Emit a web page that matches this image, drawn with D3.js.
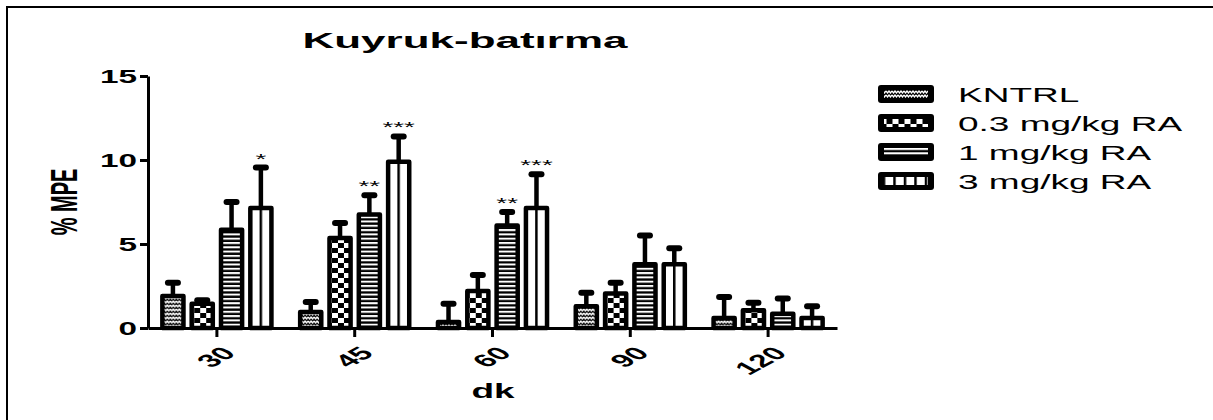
<!DOCTYPE html>
<html><head><meta charset="utf-8">
<script src="https://cdn.jsdelivr.net/npm/d3@7"></script>
<style>
body{margin:0;background:#fff}
svg{display:block}
text{font-family:Arial,"Liberation Sans",sans-serif;fill:#000}
</style>
</head><body>
<svg id="chart" width="1213" height="420"></svg>
<script>
// data
var groups = ["30","45","60","90","120"];
var series = ["KNTRL","0.3 mg/kg RA","1 mg/kg RA","3 mg/kg RA"];
var kntrl = [1.9, 0.95, 0.35, 1.3, 0.6];
var ra03  = [1.45, 5.35, 2.2, 2.05, 1.05];
var ra1   = [5.85, 6.75, 6.1, 3.8, 0.85];
var ra3   = [7.15, 9.9, 7.15, 3.8, 0.6];
var kntrlErr = [0.8, 0.6, 1.1, 0.8, 1.25];
var ra03Err  = [0.2, 0.9, 0.95, 0.65, 0.45];
var ra1Err   = [1.65, 1.15, 0.8, 1.7, 0.9];
var ra3Err   = [2.4, 1.5, 2.0, 0.95, 0.7];
var stars = [["","","","*"],["","","**","***"],["","","**","***"],["","","",""],["","","",""]];
var yTicks = [0,5,10,15];

var means = [kntrl, ra03, ra1, ra3];
var errs = [kntrlErr, ra03Err, ra1Err, ra3Err];
var patIds = ["pK","pC","pH","pV"];

var SX = 1.85; // picture is stretched sideways
var svg = d3.select("#chart");

// frame
svg.append("rect").attr("x",7).attr("y",7).attr("width",1220).attr("height",430)
  .style("fill","none").style("stroke","#000").style("stroke-width",2);

// patterns
var defs = svg.append("defs");
var pk = defs.append("pattern").attr("id","pK").attr("patternUnits","userSpaceOnUse")
  .attr("width",6).attr("height",4).attr("x",2).attr("y",0);
pk.append("rect").attr("width",6).attr("height",4).style("fill","#000");
pk.append("path").attr("d","M0,1 L1.5,3 L3,1 L4.5,3 L6,1").style("fill","none").style("stroke","#fff").style("stroke-width",1.3);

var pc = defs.append("pattern").attr("id","pC").attr("patternUnits","userSpaceOnUse")
  .attr("width",12).attr("height",10).attr("x",2.5).attr("y",0);
pc.append("rect").attr("width",12).attr("height",10).style("fill","#fff");
pc.append("rect").attr("width",6).attr("height",5).style("fill","#000");
pc.append("rect").attr("x",6).attr("y",5).attr("width",6).attr("height",5).style("fill","#000");

var ph = defs.append("pattern").attr("id","pH").attr("patternUnits","userSpaceOnUse")
  .attr("width",8).attr("height",4.3);
ph.append("rect").attr("width",8).attr("height",4.3).style("fill","#000");
ph.append("rect").attr("width",8).attr("height",2).style("fill","#fff");

var pv = defs.append("pattern").attr("id","pV").attr("patternUnits","userSpaceOnUse")
  .attr("width",10.5).attr("height",8).attr("x",9.25);
pv.append("rect").attr("width",10.5).attr("height",8).style("fill","#fff");
pv.append("rect").attr("width",2.5).attr("height",8).style("fill","#000");

// scales
var x0 = d3.scaleBand().domain(groups).range([148, 837]);
var x1 = d3.scaleBand().domain(series).range([0, x0.bandwidth()]).paddingInner(0.28).paddingOuter(0.49);
var y = d3.scaleLinear().domain([0, 15]).range([328, 76]);
var bw = x1.bandwidth();

// title
svg.append("text").attr("transform","translate(465,48) scale(2,1)")
  .attr("text-anchor","middle").style("font-size","22px").style("font-weight","bold")
  .text("Kuyruk-batırma");

// bars
var rows = [];
groups.forEach(function(g, gi) {
  series.forEach(function(s, si) {
    rows.push({g:g, s:s, si:si, v:means[si][gi], e:errs[si][gi], star:stars[gi][si]});
  });
});

var bars = svg.append("g").selectAll("g").data(rows).enter().append("g")
  .attr("transform", function(d) { return "translate(" + (x0(d.g) + x1(d.s)) + "," + y(0) + ")"; });

bars.append("line")
  .attr("x1", bw/2).attr("x2", bw/2)
  .attr("y1", function(d) { return y(d.v) - y(0); })
  .attr("y2", function(d) { return y(d.v + d.e) - y(0); })
  .style("stroke","#000").style("stroke-width",4.5);

bars.append("line")
  .attr("x1", bw/2 - 5).attr("x2", bw/2 + 5)
  .attr("y1", function(d) { return y(d.v + d.e) - y(0); })
  .attr("y2", function(d) { return y(d.v + d.e) - y(0); })
  .style("stroke","#000").style("stroke-width",6).style("stroke-linecap","round");

bars.append("rect")
  .attr("x", 0).attr("width", bw)
  .attr("y", function(d) { return y(d.v) - y(0); })
  .attr("height", function(d) { return y(0) - y(d.v); })
  .attr("fill", function(d) { return "url(#" + patIds[d.si] + ")"; })
  .style("stroke","#000").style("stroke-width",4.5).style("stroke-linejoin","round");

bars.filter(function(d) { return d.star; }).append("text")
  .attr("transform", function(d) { return "translate(" + (bw/2) + "," + (y(d.v + d.e) - y(0) - 4) + ") scale(" + SX + ",1)"; })
  .attr("text-anchor","middle").style("font-size","15px")
  .text(function(d) { return d.star; });

// axes
var yAxis = svg.append("g").attr("transform","translate(148,0)")
  .call(d3.axisLeft(y).tickValues(yTicks).tickSize(8).tickSizeOuter(0));
var xAxis = svg.append("g").attr("transform","translate(0,328)")
  .call(d3.axisBottom(x0).tickSize(9).tickSizeOuter(0));

[yAxis, xAxis].forEach(function(a) {
  a.select(".domain").style("stroke","#000").style("stroke-width",3);
  a.selectAll(".tick line").style("stroke","#000").style("stroke-width",3);
});

yAxis.selectAll(".tick text")
  .attr("x", null).attr("dy", "0.36em")
  .attr("transform", "translate(-11,0) scale(" + SX + ",1)")
  .style("font-size","18px").style("font-weight","bold").style("font-family","Arial, 'Liberation Sans', sans-serif")
  .attr("text-anchor","end");

xAxis.selectAll(".tick text")
  .attr("y", null).attr("dy", "0.35em")
  .attr("transform", "translate(12,22) scale(" + SX + ",1) rotate(-45)")
  .style("font-size","18px").style("font-weight","bold").style("font-family","Arial, 'Liberation Sans', sans-serif")
  .attr("text-anchor","end");

// axis titles
svg.append("text").attr("transform","translate(77,202) scale(" + SX + ",1) rotate(-90)")
  .attr("text-anchor","middle").style("font-size","20px").style("font-weight","bold")
  .text("% MPE");

svg.append("text").attr("transform","translate(493,398) scale(" + SX + ",1)")
  .attr("text-anchor","middle").style("font-size","20px").style("font-weight","bold")
  .text("dk");

// legend
var leg = svg.append("g").selectAll("g").data(series).enter().append("g")
  .attr("transform", function(d, i) { return "translate(878," + (85 + i * 29) + ")"; });

leg.append("rect").attr("width",56).attr("height",18).attr("rx",3)
  .style("fill","#000");

leg.append("g").attr("transform","translate(6,5)")
  .append("rect").attr("width",44).attr("height",8)
  .attr("fill", function(d, i) { return "url(#" + patIds[i] + ")"; });

leg.append("text")
  .attr("transform","translate(80,16.5) scale(" + SX + ",1)")
  .style("font-size","20px")
  .text(String);
</script>
</body></html>
